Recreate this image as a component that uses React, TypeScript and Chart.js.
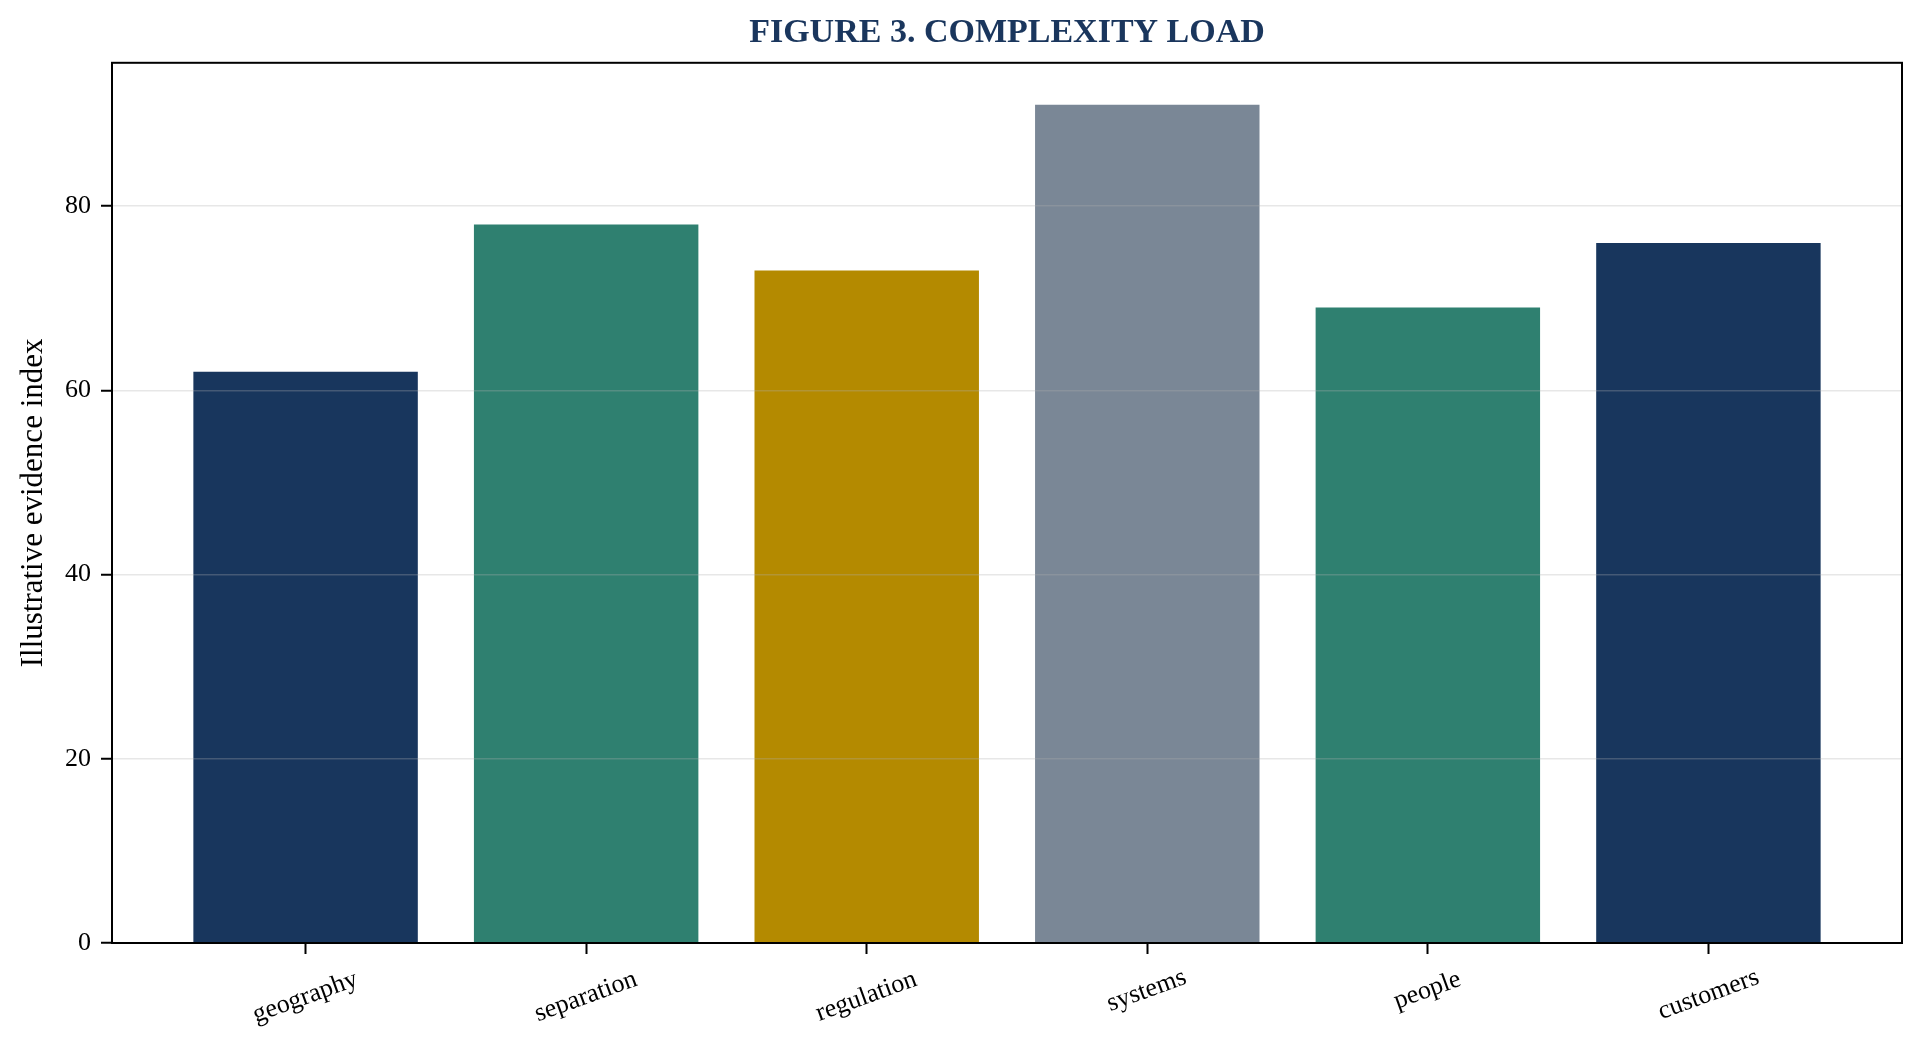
import { useEffect, useRef } from "react";
import { Chart, registerables } from "chart.js";
import type { ChartConfiguration, Plugin } from "chart.js";

Chart.register(...registerables);

const chartTitle = "FIGURE 3. COMPLEXITY LOAD";
const yAxisTitle = "Illustrative evidence index";
const categories = ["geography", "separation", "regulation", "systems", "people", "customers"];
const values = [62, 78, 73, 91, 69, 76];
const barColors = ["#18365d", "#2f8070", "#b48a00", "#7a8796", "#2f8070", "#18365d"];
const yTicks = [0, 20, 40, 60, 80];

const SERIF = "'Liberation Serif', 'Times New Roman', Times, serif";
const LABEL_ANGLE = 20; // degrees, x labels
const GRID_COLOR = "rgba(176, 176, 176, 0.3)";

// box around the plot area, like the spines in the original
const framePlugin: Plugin = {
  id: "frame",
  afterDraw(chart) {
    const { ctx, chartArea } = chart;
    ctx.save();
    ctx.strokeStyle = "#000";
    ctx.lineWidth = 2;
    ctx.strokeRect(chartArea.left, chartArea.top, chartArea.right - chartArea.left, chartArea.bottom - chartArea.top);
    ctx.restore();
  },
};

// rotated x labels, centred under each tick
const xLabelPlugin: Plugin = {
  id: "xLabels",
  afterDraw(chart) {
    const { ctx, chartArea } = chart;
    const xs = chart.scales.x;
    const th = (LABEL_ANGLE * Math.PI) / 180;
    ctx.save();
    ctx.font = `26px ${SERIF}`;
    ctx.fillStyle = "#000";
    ctx.textAlign = "center";
    ctx.textBaseline = "alphabetic";
    categories.forEach((label, i) => {
      const m = ctx.measureText(label);
      const w = m.width;
      const asc = m.actualBoundingBoxAscent;
      const desc = m.actualBoundingBoxDescent;
      const boxH = w * Math.sin(th) + (asc + desc) * Math.cos(th);
      const cx = xs.getPixelForValue(i);
      const cy = chartArea.bottom + 26 + boxH / 2;
      ctx.save();
      ctx.translate(cx, cy);
      ctx.rotate(-th);
      ctx.fillText(label, 0, (asc - desc) / 2);
      ctx.restore();
    });
    ctx.restore();
  },
};

export default function App() {
  const chartRef = useRef<HTMLCanvasElement>(null);
  const chartInstance = useRef<Chart | null>(null);

  useEffect(() => {
    if (!chartRef.current) return;

    if (chartInstance.current) {
      chartInstance.current.destroy();
    }

    const config: ChartConfiguration = {
      type: "bar",
      data: {
        datasets: [
          {
            label: yAxisTitle,
            data: categories.map((_, i) => ({ x: i, y: values[i] })),
            backgroundColor: barColors,
            borderWidth: 0,
            barPercentage: 0.8,
            categoryPercentage: 1,
          },
        ],
      },
      options: {
        responsive: true,
        maintainAspectRatio: false,
        animation: false,
        layout: {
          padding: { left: 0, right: 22, top: 0, bottom: 0 },
        },
        plugins: {
          legend: { display: false },
          tooltip: { enabled: false },
          title: {
            display: true,
            text: chartTitle,
            color: "#1a365d",
            fullSize: false,
            font: { family: SERIF, size: 34, weight: "bold" },
            padding: { top: 13, bottom: 9 },
          },
        },
        scales: {
          x: {
            type: "linear",
            min: -0.69,
            max: 5.69,
            offset: false,
            afterBuildTicks: (scale) => {
              scale.ticks = categories.map((_, i) => ({ value: i }));
            },
            afterFit: (scale) => {
              scale.height = 112;
            },
            ticks: { display: false },
            border: { display: false },
            grid: {
              offset: false,
              drawOnChartArea: false,
              drawTicks: true,
              tickLength: 11,
              tickColor: "#000",
              tickWidth: 2,
            },
          },
          y: {
            min: 0,
            max: 95.55,
            afterBuildTicks: (scale) => {
              scale.ticks = yTicks.map((v) => ({ value: v }));
            },
            afterFit: (scale) => {
              scale.width = 112;
            },
            border: { display: false },
            ticks: {
              color: "#000",
              padding: 10,
              font: { family: SERIF, size: 26 },
            },
            grid: {
              z: 1,
              color: (c) => (c.tick && c.tick.value === 0 ? "rgba(0,0,0,0)" : GRID_COLOR),
              lineWidth: 1.5,
              drawTicks: true,
              tickLength: 11,
              tickColor: "#000",
              tickWidth: 2,
            },
            title: {
              display: true,
              text: yAxisTitle,
              color: "#000",
              font: { family: SERIF, size: 31 },
              padding: { top: 15, bottom: 0 },
            },
          },
        },
      },
      plugins: [framePlugin, xLabelPlugin],
    };

    chartInstance.current = new Chart(chartRef.current, config);

    return () => {
      if (chartInstance.current) {
        chartInstance.current.destroy();
        chartInstance.current = null;
      }
    };
  }, []);

  return (
    <div style={{ position: "fixed", left: 0, top: 0, width: "100vw", height: "100vh", background: "#fff" }}>
      <canvas ref={chartRef}></canvas>
    </div>
  );
}
